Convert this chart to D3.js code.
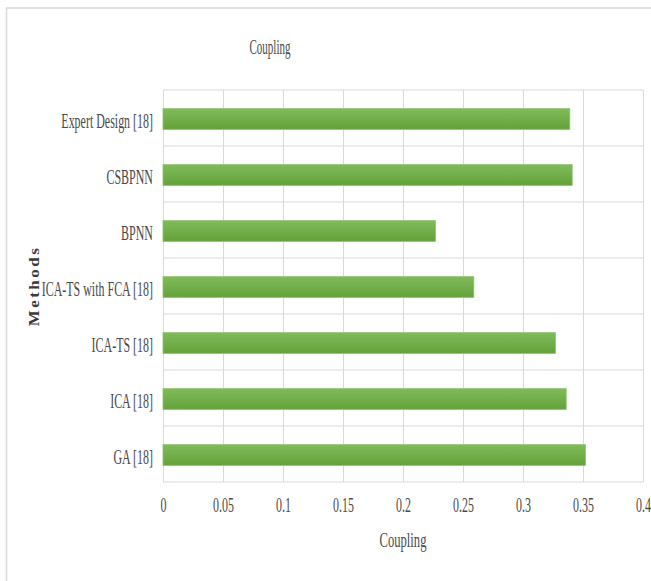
<!DOCTYPE html>
<html>
<head>
  <meta charset="utf-8">
  <title>Coupling</title>
  <script src="https://d3js.org/d3.v7.min.js"></script>
  <style>
    body { margin: 0; background: #fff; }
    text { font-family: "Liberation Serif", "Times New Roman", serif; fill: #4a4a4a; }
  </style>
</head>
<body>
<svg class="chart"></svg>
<script>
// chart values, top to bottom
const methods = ["Expert Design [18]", "CSBPNN", "BPNN", "ICA-TS with FCA [18]", "ICA-TS [18]", "ICA [18]", "GA [18]"];
const coupling = [0.339, 0.341, 0.227, 0.259, 0.327, 0.336, 0.352];
const xTicks = [0, 0.05, 0.1, 0.15, 0.2, 0.25, 0.3, 0.35, 0.4];
const xTickLabels = ["0", "0.05", "0.1", "0.15", "0.2", "0.25", "0.3", "0.35", "0.4"];

const W = 651, H = 581;
const margin = {top: 90, right: 8, bottom: 99, left: 163},
  width = W - margin.left - margin.right,
  height = H - margin.top - margin.bottom;

const svg = d3.select(".chart").attr("width", W).attr("height", H);

// outer frame (only top and left edges show)
svg.append("line").attr("x1", 6.5).attr("x2", 6.5).attr("y1", 8).attr("y2", H)
  .style("stroke", "#d9d9d9").style("stroke-width", 1.5);
svg.append("line").attr("x1", 6).attr("x2", W).attr("y1", 8).attr("y2", 8)
  .style("stroke", "#d9d9d9").style("stroke-width", 1.5);

// bar gradient
const grad = svg.append("defs").append("linearGradient")
  .attr("id", "barGrad").attr("x1", 0).attr("y1", 0).attr("x2", 0).attr("y2", 1);
grad.append("stop").attr("offset", "0%").attr("stop-color", "#81bb5a");
grad.append("stop").attr("offset", "100%").attr("stop-color", "#62a23a");

const chart = svg.append("g")
  .attr("transform", `translate(${margin.left}, ${margin.top})`);

const x = d3.scaleLinear().domain([0, 0.4]).range([0, width]);
const y = d3.scaleBand().domain(methods).range([0, height])
  .paddingInner(0.63).paddingOuter(0.315);

// vertical gridlines
chart.append("g")
  .call(d3.axisBottom(x).tickValues(xTicks).tickSize(height).tickFormat(""))
  .call(g => g.select(".domain").remove())
  .selectAll("line").style("stroke", "#d9d9d9");

// horizontal gridlines at band edges
const step = y.step();
chart.append("g").selectAll("line")
  .data(d3.range(methods.length + 1))
  .join("line")
    .attr("x1", 0).attr("x2", width)
    .attr("y1", d => d * step).attr("y2", d => d * step)
    .style("stroke", "#d9d9d9");

// bars
chart.append("g").attr("transform", "translate(0,1)")
  .selectAll("rect")
  .data(methods)
  .join("rect")
    .attr("x", 0)
    .attr("y", d => y(d))
    .attr("width", (d, i) => x(coupling[i]))
    .attr("height", y.bandwidth())
    .style("fill", "url(#barGrad)")
    .style("stroke", "#8cc26a")
    .style("stroke-width", 0.8);

// x axis labels (condensed serif)
const sx = 0.57;
chart.append("g")
  .attr("transform", `translate(0, ${height})`)
  .call(d3.axisBottom(x).tickValues(xTicks).tickSize(0).tickPadding(0)
    .tickFormat((d, i) => xTickLabels[i]))
  .call(g => g.select(".domain").remove())
  .selectAll("text")
    .attr("y", 30.5).attr("dy", 0)
    .attr("transform", `scale(${sx},1)`)
    .style("font-size", "21px")
    .style("font-family", "Liberation Serif")
    .style("fill", "#4a4a4a");

// y axis labels
chart.append("g")
  .call(d3.axisLeft(y).tickSize(0).tickPadding(0))
  .call(g => g.select(".domain").remove())
  .selectAll("text")
    .attr("x", -10 / sx).attr("dy", 9.5)
    .attr("transform", `scale(${sx},1)`)
    .style("font-size", "21px")
    .style("font-family", "Liberation Serif")
    .style("fill", "#4a4a4a");

// chart title
svg.append("text")
  .attr("transform", "translate(270, 53.5) scale(0.5,1)")
  .attr("text-anchor", "middle")
  .style("font-size", "22px")
  .text("Coupling");

// x axis title
svg.append("text")
  .attr("transform", `translate(${margin.left + width / 2}, 547) scale(0.6,1)`)
  .attr("text-anchor", "middle")
  .style("font-size", "21px")
  .text("Coupling");

// y axis title
svg.append("text")
  .attr("transform", "translate(38.5, 286) rotate(-90) scale(1,0.85)")
  .attr("text-anchor", "middle")
  .style("font-size", "17px")
  .style("font-weight", "bold")
  .style("letter-spacing", "2.5px")
  .style("fill", "#3a3a3a")
  .text("Methods");
</script>
</body>
</html>
